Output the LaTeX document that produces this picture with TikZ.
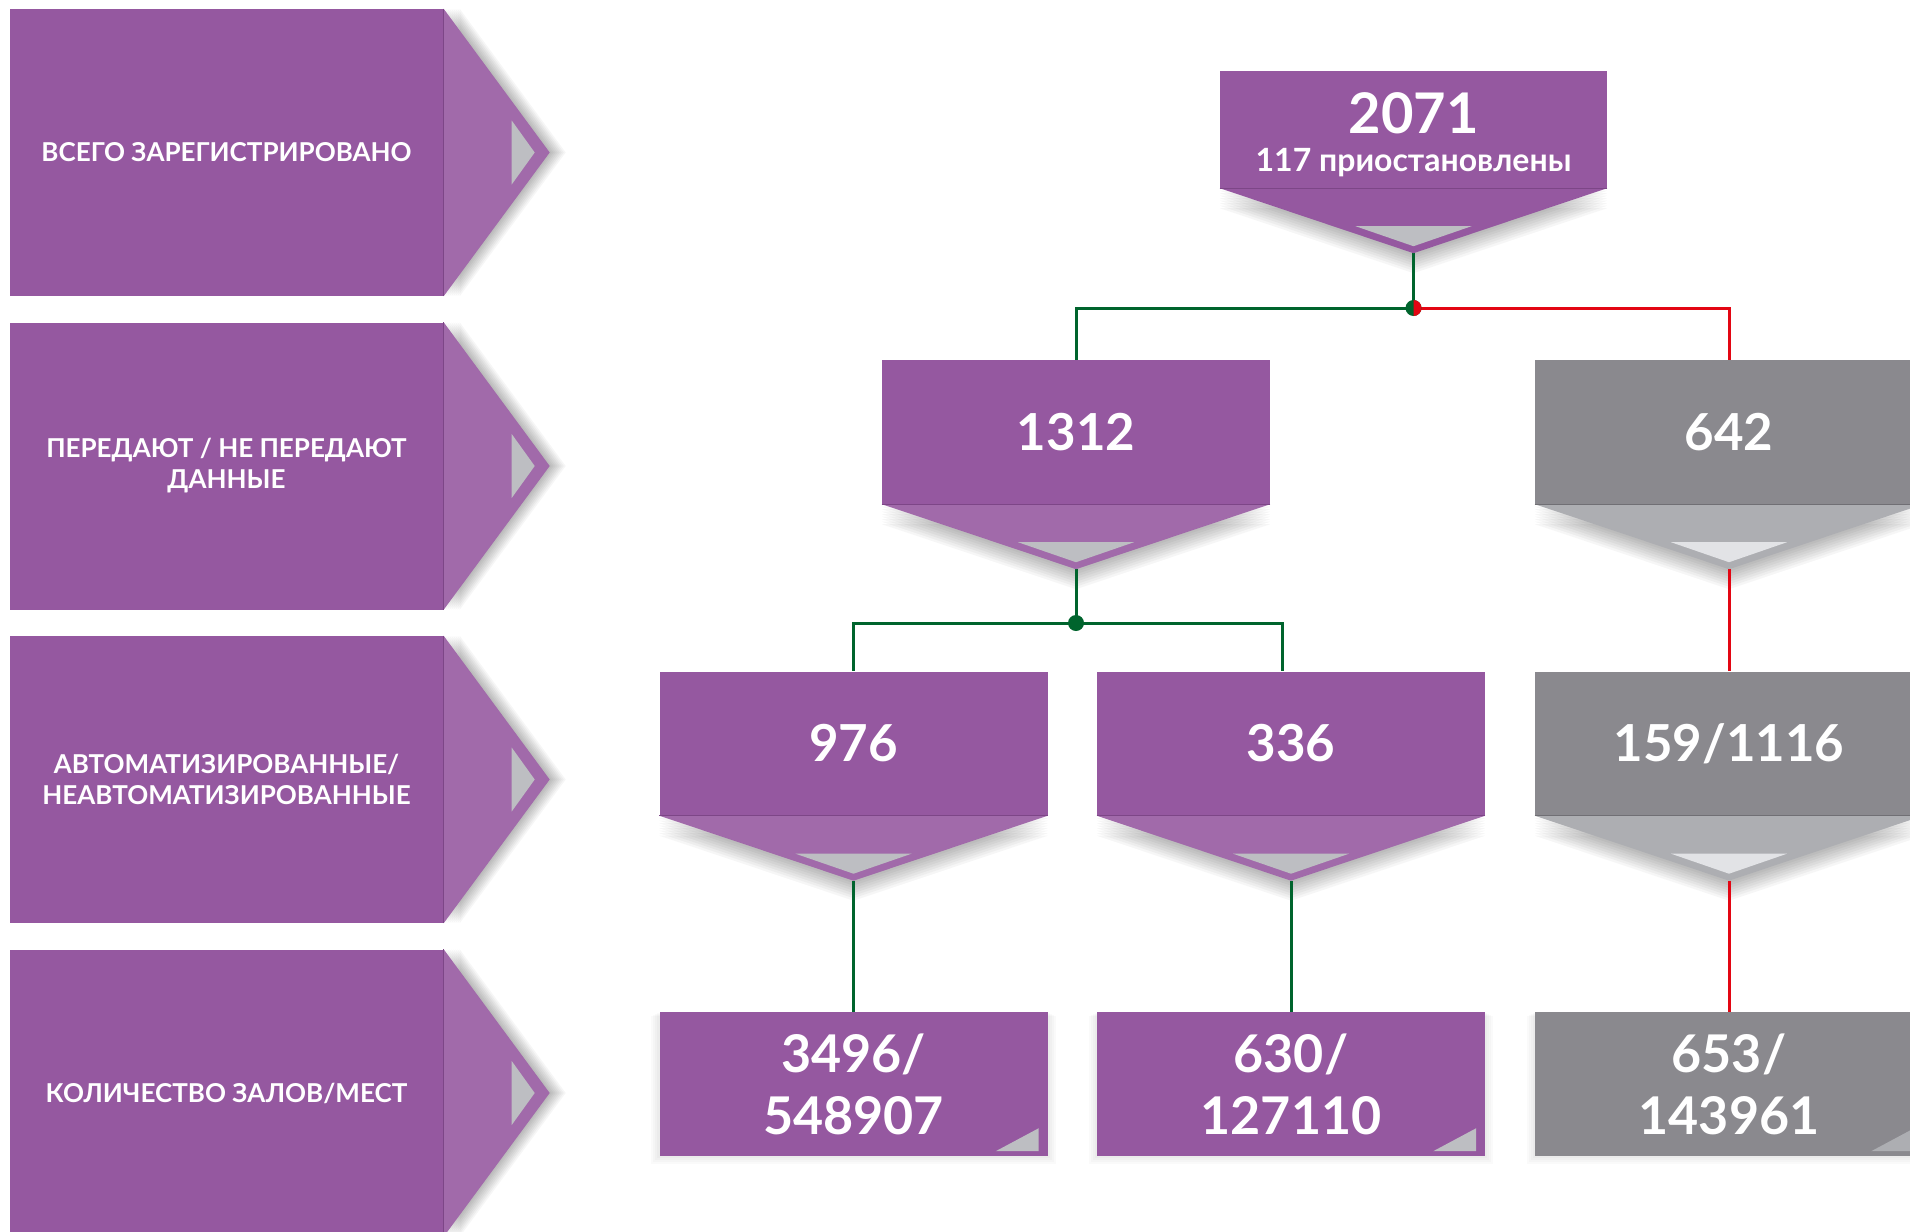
\documentclass[tikz,border=0pt]{standalone}
\usepackage{fontspec}
\setmainfont{Lato}
\usetikzlibrary{calc,backgrounds}

\definecolor{boxpurple}{RGB}{149,88,160}
\definecolor{ptrpurple}{RGB}{161,106,170}
\definecolor{seampurple}{RGB}{125,70,135}
\definecolor{boxgrey}{RGB}{138,137,142}
\definecolor{ptrgrey}{RGB}{173,174,178}
\definecolor{seamgrey}{RGB}{112,111,116}
\definecolor{trigrey}{RGB}{189,190,194}
\definecolor{trilight}{RGB}{226,227,230}
\definecolor{lgreen}{RGB}{0,100,45}
\definecolor{lred}{RGB}{227,6,19}

\tikzset{
  banner/.style={fill=boxpurple, minimum width=434, minimum height=287, inner sep=0,
    text=white, align=center, font=\bfseries\fontsize{26}{31}\selectfont},
  numbox/.style={minimum width=388, minimum height=144, inner sep=0, text=white,
    align=center, font=\bfseries\fontsize{51}{62}\selectfont},
  seatbox/.style={numbox, font=\bfseries\fontsize{52}{62}\selectfont},
  gline/.style={lgreen, line width=3},
  rline/.style={lred, line width=3}
}

\begin{document}
\begin{tikzpicture}[x=1pt,y=-1pt]
\useasboundingbox (0,0) rectangle (1910,1231);

\node[banner] (b1) at (226.5,152.5) {ВСЕГО ЗАРЕГИСТРИРОВАНО};
\node[banner] (b2) at (226.5,466) {ПЕРЕДАЮТ / НЕ ПЕРЕДАЮТ\\ДАННЫЕ};
\node[banner] (b3) at (226.5,779.5) {АВТОМАТИЗИРОВАННЫЕ/\\НЕАВТОМАТИЗИРОВАННЫЕ};
\node[banner] (b4) at (226.5,1093) {КОЛИЧЕСТВО ЗАЛОВ/МЕСТ};

\foreach \b in {b1,b2,b3,b4}{
  \fill[ptrpurple] (\b.north east) -- ($(\b.east)+(106,0)$) -- (\b.south east) -- cycle;
  \fill[trigrey] ($(\b.east)+(68,-32)$) -- ($(\b.east)+(91,0)$) -- ($(\b.east)+(68,32)$) -- cycle;
  \draw[seampurple, line width=1] (\b.north east) -- (\b.south east);
}

\node[numbox, fill=boxpurple, minimum width=387, minimum height=117] (n2071) at (1413.5,129.5) {};
\node[anchor=base, text=white, font=\bfseries\fontsize{56}{60}\selectfont] (t2071) at (1413.5,133) {2071};
\node[anchor=base, text=white, font=\bfseries\fontsize{32}{36}\selectfont] (t117) at (1413.5,171) {117 приостановлены};

\node[numbox, fill=boxpurple] (n1312) at (1076,432) {1312};
\node[numbox, fill=boxgrey] (n642) at (1729,432) {642};
\node[numbox, fill=boxpurple] (n976) at (853.5,743.5) {976};
\node[numbox, fill=boxpurple] (n336) at (1291,743.5) {336};
\node[numbox, fill=boxgrey] (n159) at (1729,743.5) {159/1116};

\node[seatbox, fill=boxpurple] (s3496) at (853.5,1084) {3496/\\548907};
\node[seatbox, fill=boxpurple] (s630) at (1291,1084) {630/\\127110};
\node[seatbox, fill=boxgrey] (s653) at (1729,1084) {653/\\143961};

\foreach \n/\pc/\tc/\sc in {n2071/boxpurple/trigrey/seampurple, n1312/ptrpurple/trigrey/seampurple,
    n642/ptrgrey/trilight/seamgrey, n976/ptrpurple/trigrey/seampurple,
    n336/ptrpurple/trigrey/seampurple, n159/ptrgrey/trilight/seamgrey}{
  \fill[\pc] (\n.south west) -- (\n.south east) -- ($(\n.south)+(0,65)$) -- cycle;
  \fill[\tc] ($(\n.south)+(-58,38)$) -- ($(\n.south)+(58,38)$) -- ($(\n.south)+(0,58)$) -- cycle;
  \draw[\sc, line width=1] (\n.south west) -- (\n.south east);
  \coordinate (\n-tip) at ($(\n.south)+(0,65)$);
}

\foreach \s/\fc in {s3496/trigrey, s630/trigrey, s653/ptrgrey}
  \fill[\fc] ($(\s.south east)+(-52,-5)$) -- ($(\s.south east)+(-9,-5)$) -- ($(\s.south east)+(-9,-28)$) -- cycle;

\coordinate (j1) at (1413.5,308);
\coordinate (j2) at (1076,623);

\begin{pgfonlayer}{background}
\fill[white] (0,0) rectangle (1910,1231);
\foreach \b in {b1,b2,b3,b4}
  \foreach \k in {1,...,8}
    \fill[black, opacity=0.035] ($(\b.north east)+(\k*2,0)$) -- ($(\b.east)+(106+\k*2,0)$) -- ($(\b.south east)+(\k*2,0)$) -- cycle;
\foreach \n in {n2071,n1312,n642,n976,n336,n159}
  \foreach \k in {1,...,8}
    \fill[black, opacity=0.035] ($(\n.south west)+(0,\k*2.5)$) -- ($(\n.south east)+(0,\k*2.5)$) -- ($(\n.south)+(0,65+\k*2.5)$) -- cycle;
\foreach \s in {s3496,s630,s653}
  \foreach \k in {1,...,4}
    \fill[black, opacity=0.02] ($(\s.north west)+(-\k*2,\k)$) rectangle ($(\s.south east)+(\k*2,\k*2)$);

\draw[gline] (n2071-tip) -- (j1);
\draw[gline] (j1) -| (n1312.north);
\draw[rline] (j1) -| (n642.north);
\draw[gline] (n1312-tip) -- (j2);
\draw[gline] (j2) -| (n976.north);
\draw[gline] (j2) -| ([xshift=-9]n336.north);
\draw[rline] (n642-tip) -- (n159.north);
\draw[gline] (n976-tip) -- (s3496.north);
\draw[gline] (n336-tip) -- (s630.north);
\draw[rline] (n159-tip) -- (s653.north);
\end{pgfonlayer}

\fill[lgreen] (j1) circle (8);
\begin{scope}
  \clip (j1) ++(0,-9) rectangle ++(9,18);
  \fill[lred] (j1) circle (8);
\end{scope}
\fill[lgreen] (j2) circle (8);
\end{tikzpicture}
\end{document}
